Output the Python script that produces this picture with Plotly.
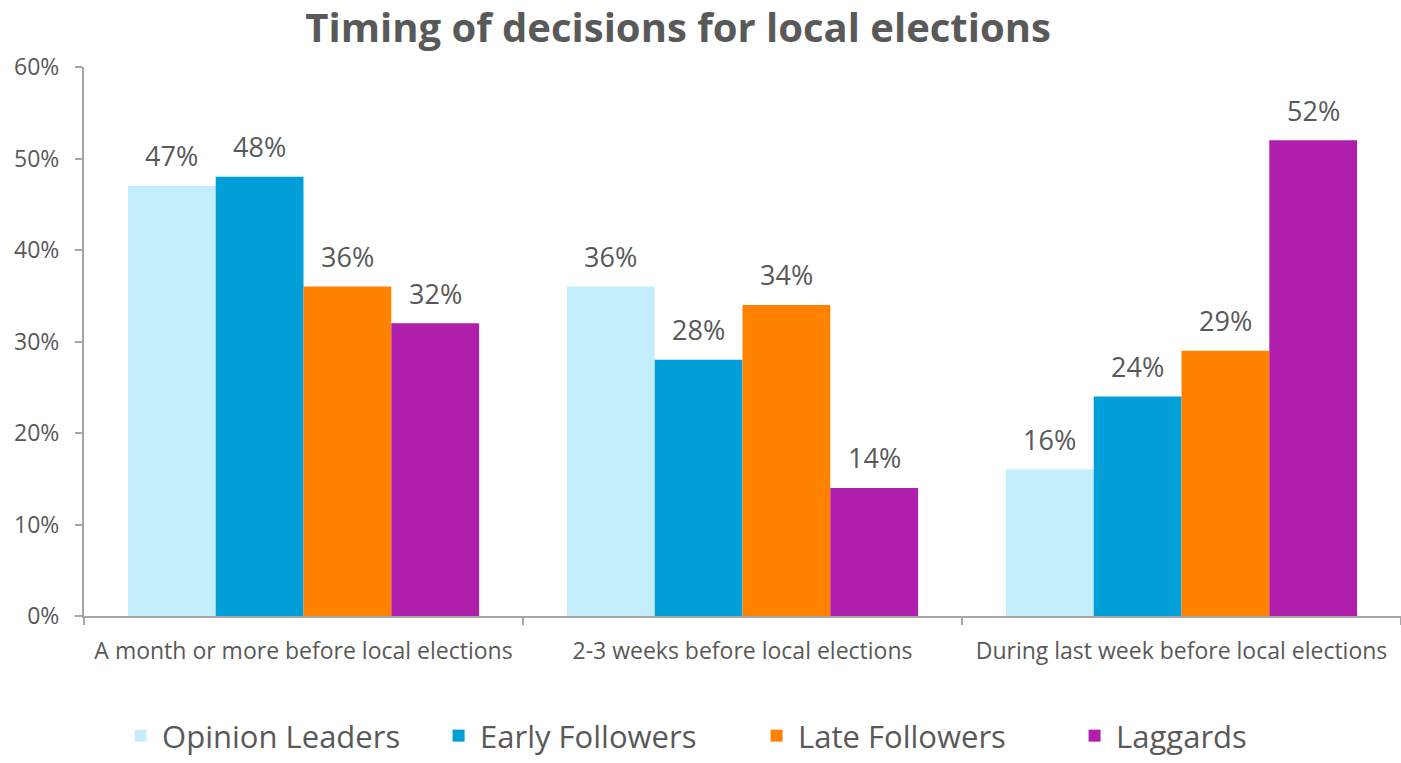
import plotly.graph_objects as go

categories = [
    "A month or more before local elections",
    "2-3 weeks before local elections",
    "During last week before local elections",
]
series_names = ["Opinion Leaders", "Early Followers", "Late Followers", "Laggards"]
opinion_leaders = [47, 36, 16]
early_followers = [48, 28, 24]
late_followers = [36, 34, 29]
laggards = [32, 14, 52]
colors = ["#C5EEFC", "#029ED8", "#FF8200", "#B01EAC"]
y_ticks = [0, 10, 20, 30, 40, 50, 60]

series_values = [opinion_leaders, early_followers, late_followers, laggards]

FONT = "Open Sans"
GREY = "#595959"
W, H = 1401, 763
M_L, M_R, M_T, M_B = 84, 0, 67, 147
BARGAP = 0.2

fig = go.Figure()
for name, vals, col in zip(series_names, series_values, colors):
    fig.add_trace(go.Bar(
        name=name, x=categories, y=vals, marker=dict(color=col, line=dict(width=0)),
        hoverinfo="skip",
    ))

# value labels above each bar
plot_w = W - M_L - M_R
bar_px = plot_w / len(categories) * (1 - BARGAP) / len(series_names)
for i, vals in enumerate(series_values):
    for cat, v in zip(categories, vals):
        fig.add_annotation(
            x=cat, y=v, text=f"{v}%", showarrow=False,
            xshift=(i - 1.5) * bar_px, yshift=30,
            font=dict(family=FONT, size=27, color=GREY),
        )

fig.update_layout(
    width=W, height=H,
    margin=dict(l=M_L, r=M_R, t=M_T, b=M_B, autoexpand=False),
    paper_bgcolor="white", plot_bgcolor="white",
    barmode="group", bargap=BARGAP, bargroupgap=0,
    title=dict(
        text="<b>Timing of decisions for local elections</b>",
        x=0.484, xanchor="center", y=0.963, yanchor="middle",
        font=dict(family=FONT, size=40, color=GREY),
    ),
    legend=dict(
        orientation="h", xref="container", yref="container",
        x=0.085, xanchor="left", y=0.0, yanchor="bottom",
        font=dict(family=FONT, size=31, color=GREY),
        itemwidth=33, tracegroupgap=0,
        entrywidth=270, entrywidthmode="pixels",
    ),
    showlegend=True,
)
fig.update_xaxes(
    showline=True, linecolor="#A6A6A6", linewidth=2,
    ticks="outside", ticklen=7, tickcolor="#A6A6A6", tickwidth=2,
    tickson="boundaries", ticklabelstandoff=13,
    tickfont=dict(family=FONT, size=23, color=GREY),
    showgrid=False, automargin=False,
)
fig.update_yaxes(
    range=[0, 60], tickvals=y_ticks, ticktext=[f"{t}%" for t in y_ticks],
    showline=True, linecolor="#A6A6A6", linewidth=2,
    ticks="outside", ticklen=7, tickcolor="#A6A6A6", tickwidth=2,
    ticklabelstandoff=11,
    tickfont=dict(family=FONT, size=23, color=GREY),
    showgrid=False, zeroline=False, automargin=False,
)

fig.write_html("out.html")
